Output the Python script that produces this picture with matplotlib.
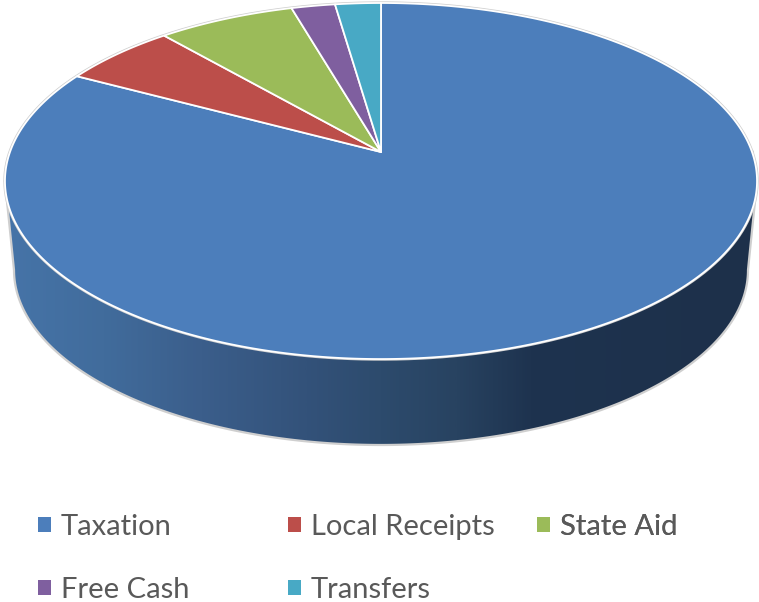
import numpy as np
import matplotlib
matplotlib.use("Agg")
import matplotlib.pyplot as plt
from matplotlib.colors import LinearSegmentedColormap
from matplotlib.patches import Patch, Polygon

categories = ["Taxation", "Local Receipts", "State Aid", "Free Cash", "Transfers"]
values = [82.8, 5.8, 6.9, 2.2, 2.3]
colors = ["#4C7EBB", "#BC4E4A", "#9BBB59", "#7F5F9F", "#48A9C5"]
legend_columns = [[0, 3], [1, 4], [2]]

W, H = 759, 602
# Projection of the unit pie disc on to the picture
APEX = (381.0, 152.0)
A, B, K = 371.0, 173.3, 0.163
# Outline of the pie's underside
BASE = (381.0, 270.0, 367.0, 175.0)


def project(theta):
    w = 1 + K * np.sin(theta)
    return APEX[0] + A * np.cos(theta) / w, APEX[1] - B * np.sin(theta) / w


fig = plt.figure(figsize=(W / 100, H / 100), dpi=100, facecolor="white")
ax = fig.add_axes([0, 0, 1, 1])
ax.set_xlim(0, W)
ax.set_ylim(H, 0)
ax.axis("off")

# Side wall
t = np.linspace(0, 2 * np.pi, 721)
tx, ty = project(t)
left, right = tx.argmin(), tx.argmax()
bt = np.linspace(np.pi, 0, 361)
bx = BASE[0] + BASE[2] * np.cos(bt)
by = BASE[1] + BASE[3] * np.sin(bt)
wall_xy = np.column_stack([
    np.r_[tx[left], bx, tx[right]],
    np.r_[ty[left], by, ty[right]],
])
stops = [(0.00, "#4674A8"), (0.13, "#416C9C"), (0.26, "#3B5E8B"), (0.40, "#33527A"),
         (0.50, "#2D4B6D"), (0.60, "#284361"), (0.70, "#1E334F"), (1.00, "#1D304A")]
cmap = LinearSegmentedColormap.from_list("wall", stops)
wall = Polygon(wall_xy, closed=True, facecolor="none", edgecolor="#CFCFCF", lw=1.6, zorder=2)
ax.add_patch(wall)
img = ax.imshow(np.linspace(0, 1, 512)[None, :], cmap=cmap, extent=(5, 757, H, 0),
                aspect="auto", zorder=1)
img.set_clip_path(Polygon(wall_xy, closed=True, transform=ax.transData))
ax.set_xlim(0, W)
ax.set_ylim(H, 0)

# Light rim of the top face
ax.plot(np.r_[tx, tx[0]], np.r_[ty, ty[0]], color="#CFCFCF", lw=2.4, zorder=3)

# Slices, clockwise from 12 o'clock
total = sum(values)
angle = np.pi / 2
for value, color in zip(values, colors):
    sweep = 2 * np.pi * value / total
    th = np.linspace(angle, angle - sweep, max(int(value * 12), 24))
    px, py = project(th)
    ax.fill(np.r_[APEX[0], px], np.r_[APEX[1], py], facecolor=color,
            edgecolor="white", lw=1.3, joinstyle="round", zorder=4)
    angle -= sweep

# Legend
anchors = [37.5, 287.5, 536.5]
for column, x0 in zip(legend_columns, anchors):
    handles = [Patch(facecolor=colors[i], edgecolor="none") for i in column]
    labels = [categories[i] for i in column]
    lg = ax.legend(handles, labels, loc="upper left", bbox_to_anchor=(x0, 514),
                   bbox_transform=ax.transData, frameon=False, borderpad=0, borderaxespad=0,
                   labelcolor="#595959", handlelength=0.45, handleheight=0.45,
                   handletextpad=0.34, labelspacing=1.27, prop={"family": "Lato", "size": 21})
    ax.add_artist(lg)

fig.savefig("out.png", dpi=100, facecolor="white")
